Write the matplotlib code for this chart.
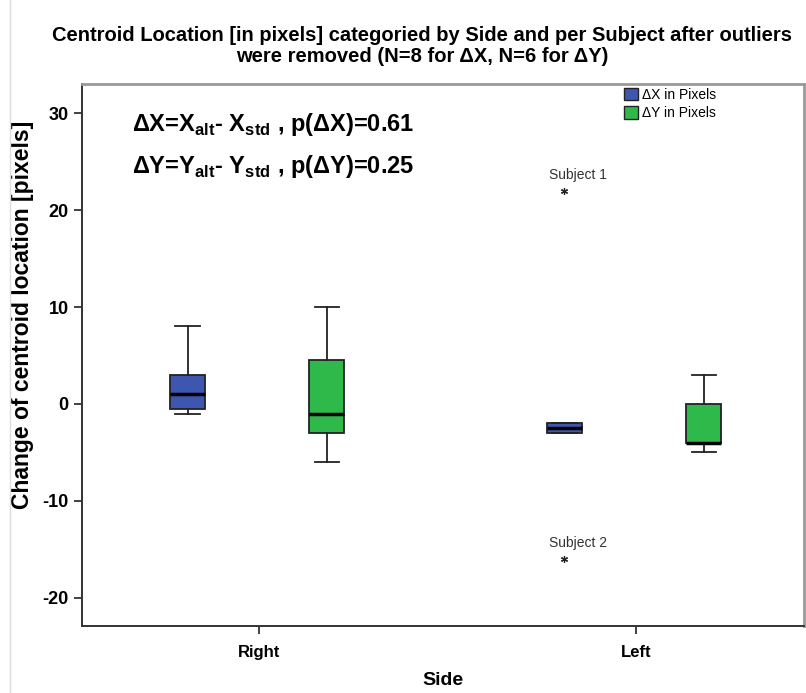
import matplotlib
matplotlib.use("AGG")
import matplotlib.pyplot as plt
from matplotlib.patches import Patch
from matplotlib.lines import Line2D

plt.rcParams["font.family"] = ["Liberation Sans", "DejaVu Sans"]
plt.rcParams["mathtext.fontset"] = "custom"
plt.rcParams["mathtext.rm"] = "Liberation Sans"
plt.rcParams["mathtext.bf"] = "Liberation Sans:bold"

# data
sides = ["Right", "Left"]
series = ["ΔX in Pixels", "ΔY in Pixels"]
colors = ["#3d57b0", "#2fb94b"]
# [whislo, q1, median, q3, whishi] for each side
dx_stats = [[-1, -0.5, 1, 3, 8], [-3, -3, -2.5, -2, -2]]
dy_stats = [[-6, -3, -1, 4.5, 10], [-5, -4, -4, 0, 3]]
outlier_side = [1, 1]
outlier_vals = [22, -16]
outlier_names = ["Subject 1", "Subject 2"]

fig = plt.figure(figsize=(8.06, 6.93), dpi=100)
ax = fig.add_axes([82 / 806, 1 - 626 / 693, 722 / 806, 542 / 693])

offsets = [-0.19, 0.18]
for k, (st_list, col) in enumerate(zip([dx_stats, dy_stats], colors)):
    stats = []
    for s in st_list:
        stats.append(dict(whislo=s[0], q1=s[1], med=s[2], q3=s[3], whishi=s[4], fliers=[]))
    pos = [i + offsets[k] for i in range(len(sides))]
    ax.bxp(stats, positions=pos, widths=0.093, patch_artist=True, showfliers=False,
           boxprops=dict(facecolor=col, edgecolor="#222222", linewidth=1.3),
           medianprops=dict(color="black", linewidth=2.5),
           whiskerprops=dict(color="#222222", linewidth=1.3),
           capprops=dict(color="#222222", linewidth=1.3),
           capwidths=0.065)

for sd, v, name in zip(outlier_side, outlier_vals, outlier_names):
    xo = sd + offsets[0]
    ax.plot(xo, v, marker=(6, 2, 0), color="#222222", markersize=5, markeredgewidth=0.9)
    ax.text(xo - 0.04, v + 0.9, name, fontsize=10, ha="left", va="bottom", color="#333333")

ax.set_xlim(-0.47, 1.446)
ax.set_ylim(-22.9, 33.0)
ax.set_xticks(range(len(sides)))
ax.set_xticklabels(sides, fontweight="bold", fontsize=12)
ax.set_yticks([-20, -10, 0, 10, 20, 30])
ax.set_yticklabels(["-20", "-10", "0", "10", "20", "30"], fontweight="bold", fontsize=13)
ax.tick_params(axis="both", direction="out", length=6, width=1.3, color="#333333")
ax.tick_params(axis="x", pad=8)

for s in ["left", "bottom"]:
    ax.spines[s].set_color("#333333")
    ax.spines[s].set_linewidth(1.4)
for s in ["top", "right"]:
    ax.spines[s].set_color("#999999")
    ax.spines[s].set_linewidth(2.0)

ax.set_xlabel("Side", fontweight="bold", fontsize=14, labelpad=8)
ax.set_ylabel("Change of centroid location [pixels]", fontweight="bold", fontsize=16.5)
ax.yaxis.set_label_coords(-0.066, 0.574)

fig.text(0.524, 0.962,
         "Centroid Location [in pixels] categoried by Side and per Subject after outliers\n"
         "were removed (N=8 for ΔX, N=6 for ΔY)",
         fontweight="bold", fontsize=14.5, ha="center", va="top", linespacing=1.12)

ax.text(0.069, 0.925, r"ΔX=X$_{\mathbf{alt}}$- X$_{\mathbf{std}}$ , p(ΔX)=0.61",
        transform=ax.transAxes, fontsize=17, fontweight="bold", va="center")
ax.text(0.069, 0.848, r"ΔY=Y$_{\mathbf{alt}}$- Y$_{\mathbf{std}}$ , p(ΔY)=0.25",
        transform=ax.transAxes, fontsize=17, fontweight="bold", va="center")

handles = [Patch(facecolor=c, edgecolor="#222222", linewidth=1.0) for c in colors]
ax.legend(handles, series, loc="upper right", bbox_to_anchor=(0.89, 1.008), frameon=False,
          fontsize=10, handlelength=1.0, handleheight=1.0, handletextpad=0.3,
          labelspacing=0.3, borderaxespad=0.2)

fig.add_artist(Line2D([10 / 806, 10 / 806], [0, 1], color="#dddddd", linewidth=1))

fig.savefig("out.png", dpi=100)
